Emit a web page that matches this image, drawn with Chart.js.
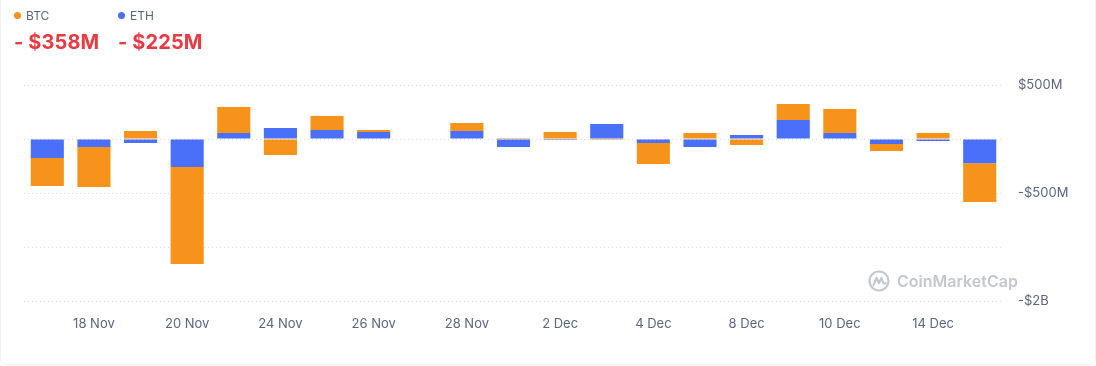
<!DOCTYPE html>
<html>
<head>
<meta charset="utf-8">
<script src="https://cdn.jsdelivr.net/npm/chart.js@4"></script>
<style>
  html, body { margin: 0; padding: 0; background: #fff; }
  body { width: 1096px; height: 366px; overflow: hidden; font-family: Inter, "Noto Sans", sans-serif; }
  .card {
    position: absolute; left: 0; top: -10px; width: 1094px; height: 374px;
    border: 1px solid #eff2f5; border-top: none; border-radius: 0 0 8px 8px;
  }
  .legend { position: absolute; top: 8px; font-size: 12px; color: #58667e; }
  .legend .dot { display: inline-block; width: 7px; height: 7px; border-radius: 50%; margin-right: 5px; vertical-align: 1px; }
  .legend .val { font-size: 20px; font-weight: 700; color: #ea3943; margin-top: 7px; letter-spacing: 0.1px; }
  #wrap { position: absolute; left: 0; top: 0; width: 1096px; height: 366px; }
  .wm { position: absolute; left: 868px; top: 270px; color: #c3c8d0; font-size: 16px; font-weight: 600; display: flex; align-items: center; }
  .wm svg { margin-right: 7px; }
</style>
</head>
<body>
<div class="card"></div>
<div id="wrap"><canvas id="chart" width="1096" height="366"></canvas></div>
<div class="legend" style="left:14px"><span class="dot" style="background:#f7931a"></span>BTC<div class="val">- $358M</div></div>
<div class="legend" style="left:118px"><span class="dot" style="background:#4a6ff8"></span>ETH<div class="val">- $225M</div></div>
<div class="wm">
  <svg width="22" height="22" viewBox="0 0 22 22"><circle cx="11" cy="11" r="9.5" fill="none" stroke="#c3c8d0" stroke-width="2.2"/><path d="M5.5 15 L8.5 8 L11 13 L13.5 8 L15 12.5 Q16 14.5 17.5 13" fill="none" stroke="#c3c8d0" stroke-width="2.2" stroke-linejoin="round" stroke-linecap="round"/></svg>
  CoinMarketCap
</div>
<script>
// one bar per day that has data (values in $M, net flow)
var dates = ['17 Nov', '18 Nov', '19 Nov', '20 Nov', '21 Nov', '24 Nov', '25 Nov', '26 Nov', '27 Nov',
  '28 Nov', '1 Dec', '2 Dec', '3 Dec', '4 Dec', '5 Dec', '8 Dec', '9 Dec', '10 Dec', '11 Dec', '14 Dec', '15 Dec'];
var tickDates = ['18 Nov', '20 Nov', '24 Nov', '26 Nov', '28 Nov', '2 Dec', '4 Dec', '8 Dec', '10 Dec', '14 Dec'];

var ethValues = [-176, -74, -37, -259, 56, 102, 83, 65, 0, 74, -74, -9, 139, -37, -74, 37, 176, 56, -46, -19, -225];
var btcValues = [-259, -370, 74, -898, 241, -148, 130, 19, 0, 74, 9, 65, -9, -194, 56, -56, 148, 222, -65, 56, -358];

var yMin = -1500, yMax = 500, yStep = 500;

function fmtMoney(v) {
  var sign = v < 0 ? '-' : '';
  var a = Math.abs(v);
  if (a >= 1000) return sign + '$' + Math.round(a / 1000) + 'B';
  return sign + '$' + a + 'M';
}

var grey = '#58667e';

new Chart(document.getElementById('chart'), {
  type: 'bar',
  data: {
    labels: dates,
    datasets: [
      { label: 'ETH', data: ethValues, backgroundColor: '#4a6ff8', stack: 's' },
      { label: 'BTC', data: btcValues, backgroundColor: '#f7931a', stack: 's' }
    ]
  },
  options: {
    responsive: false,
    animation: false,
    layout: { padding: { left: 24, top: 85, right: 0, bottom: 0 } },
    datasets: { bar: { categoryPercentage: 1, barPercentage: 0.71 } },
    plugins: { legend: { display: false }, tooltip: { enabled: false } },
    scales: {
      x: {
        stacked: true,
        grid: { display: false },
        border: { display: false },
        afterFit: function (s) { s.height = 65; },
        ticks: {
          autoSkip: false, maxRotation: 0, padding: 7,
          color: grey, font: { family: 'Inter', size: 13 },
          callback: function (v, i) {
            var d = dates[i];
            return tickDates.indexOf(d) >= 0 ? d : '';
          }
        }
      },
      y: {
        stacked: true,
        position: 'right',
        min: yMin, max: yMax,
        border: { display: false, dash: [1, 3] },
        afterFit: function (s) { s.width = 93; },
        grid: { color: '#d5d9df', lineWidth: 1, drawTicks: false },
        ticks: {
          stepSize: yStep, padding: 15,
          color: grey, font: { family: 'Inter', size: 13 },
          callback: function (v, i) { return i % 2 === 0 ? fmtMoney(v) : ''; }
        }
      }
    }
  }
});
</script>
</body>
</html>
